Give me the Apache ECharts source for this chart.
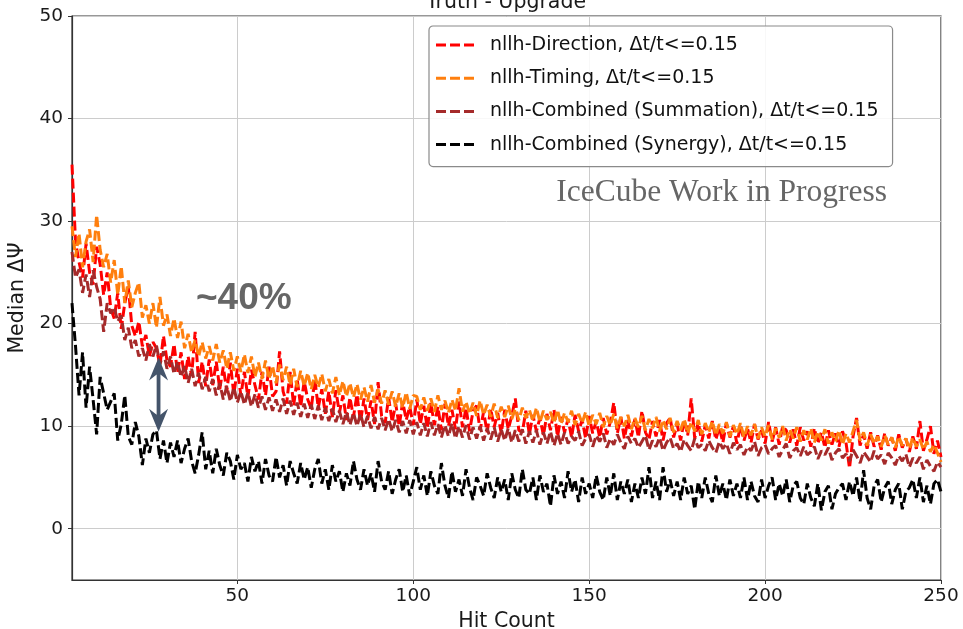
<!DOCTYPE html>
<html>
<head>
<meta charset="utf-8">
<script src="https://cdn.jsdelivr.net/npm/echarts@6/dist/echarts.min.js"></script>
<style>
  html, body { margin: 0; padding: 0; background: #fff; }
  #chart { width: 963px; height: 629px; }
</style>
</head>
<body>
<div id="chart"></div>
<script>
// Hit counts run from 3 to 250 in steps of one
const hitStart = 3;
const hitEnd = 250;
const hitCounts = [];
for (let h = hitStart; h <= hitEnd; h++) hitCounts.push(h);

const seriesNames = [
  'nllh-Direction, Δt/t<=0.15',
  'nllh-Timing, Δt/t<=0.15',
  'nllh-Combined (Summation), Δt/t<=0.15',
  'nllh-Combined (Synergy), Δt/t<=0.15'
];

// Median angular error per hit count
const direction = [
  35.5, 28.0, 26.0, 24.5, 27.8, 25.0, 23.8, 27.5, 25.8, 22.8,
  25.0, 21.5, 20.5, 23.0, 19.5, 22.0, 23.6, 19.8, 18.8, 20.2,
  17.8, 18.9, 16.8, 18.2, 17.6, 15.9, 18.8, 16.4, 15.8, 18.0,
  15.2, 17.2, 14.6, 16.8, 14.9, 19.2, 14.2, 16.3, 13.9, 16.5,
  14.0, 16.3, 13.6, 15.8, 13.4, 16.2, 13.1, 15.6, 13.0, 15.3,
  12.8, 15.5, 14.0, 12.6, 15.3, 13.0, 15.8, 12.9, 13.4, 17.3,
  13.4, 12.2, 15.3, 12.0, 14.6, 11.9, 14.4, 12.6, 11.7, 14.6,
  11.8, 13.6, 11.2, 13.4, 10.9, 13.5, 11.3, 13.0, 10.6, 12.8,
  10.9, 13.1, 10.4, 12.7, 10.6, 12.5, 10.2, 14.3, 11.0, 10.3,
  12.8, 10.4, 12.2, 10.0, 12.4, 10.6, 11.9, 10.1, 12.6, 10.2,
  12.0, 9.8, 12.3, 10.1, 11.9, 9.6, 12.2, 10.0, 11.6, 9.7,
  12.4, 9.9, 11.8, 9.5, 11.5, 12.0, 9.6, 11.4, 9.4, 11.7,
  9.9, 11.3, 9.3, 11.6, 9.7, 11.0, 12.7, 9.6, 9.4, 11.5,
  9.2, 11.1, 9.5, 10.8, 9.1, 11.2, 9.6, 11.6, 9.0, 10.9,
  9.4, 10.7, 8.9, 11.1, 9.5, 10.6, 8.8, 11.0, 9.3, 10.5,
  8.9, 10.8, 9.2, 10.4, 12.3, 9.3, 10.9, 8.8, 10.6, 9.0,
  10.7, 8.9, 11.5, 9.4, 8.7, 10.5, 9.0, 10.6, 8.6, 10.3,
  10.8, 8.9, 10.2, 8.6, 10.6, 9.1, 12.7, 8.8, 10.4, 8.5,
  10.1, 8.8, 10.5, 8.7, 9.9, 8.4, 10.3, 8.9, 10.0, 8.3,
  10.1, 8.6, 9.8, 8.4, 10.2, 8.7, 9.6, 8.3, 10.4, 8.5,
  9.9, 8.2, 10.0, 9.6, 8.4, 9.7, 8.1, 9.9, 8.6, 9.5,
  8.0, 9.8, 8.3, 9.4, 7.9, 9.6, 8.2, 9.3, 8.0, 9.5,
  8.4, 5.9, 9.0, 10.8, 8.1, 9.2, 7.8, 9.4, 8.0, 9.1,
  7.7, 9.3, 8.1, 8.9, 7.6, 9.2, 7.9, 8.8, 7.5, 9.0,
  7.8, 10.5, 7.6, 8.7, 10.0, 7.3, 8.6, 7.0
];

const timing = [
  29.5, 26.5, 28.8, 25.5, 28.0, 29.2, 26.0, 30.6, 27.2, 25.5,
  26.8, 24.0, 26.2, 22.8, 25.6, 22.0, 24.2, 21.6, 23.0, 24.0,
  20.6, 21.8, 20.0, 22.0, 19.6, 22.6, 19.8, 20.9, 18.8, 20.5,
  18.6, 20.2, 17.6, 19.0, 17.2, 18.4, 16.8, 18.2, 16.6, 17.8,
  16.4, 18.0, 16.2, 17.4, 15.6, 17.2, 15.4, 16.8, 15.3, 17.0,
  15.2, 16.8, 14.8, 16.2, 14.6, 16.4, 14.6, 15.9, 14.2, 16.0,
  14.5, 15.8, 14.0, 15.6, 13.8, 15.4, 13.9, 15.2, 13.6, 15.0,
  13.8, 15.1, 13.4, 14.6, 13.2, 14.8, 13.0, 14.4, 12.9, 14.2,
  12.8, 14.1, 12.6, 13.8, 12.4, 14.0, 12.3, 13.6, 12.2, 13.5,
  12.1, 13.4, 11.9, 13.2, 11.8, 13.3, 11.7, 13.0, 12.9, 11.6,
  12.8, 11.5, 12.7, 11.4, 13.0, 11.6, 12.5, 11.3, 12.6, 11.5,
  13.7, 11.4, 12.4, 11.2, 12.3, 11.0, 12.5, 11.1, 12.1, 10.9,
  12.2, 10.8, 11.9, 10.9, 12.0, 10.7, 11.7, 10.6, 11.8, 10.8,
  11.6, 10.5, 11.8, 10.4, 11.5, 10.6, 11.4, 10.3, 11.6, 10.2,
  11.3, 10.4, 11.5, 10.1, 11.2, 10.3, 11.4, 10.0, 11.1, 10.2,
  11.3, 9.9, 11.0, 10.1, 11.2, 9.8, 10.9, 10.0, 11.1, 9.7,
  10.8, 9.9, 11.0, 9.6, 10.7, 9.8, 10.9, 9.5, 10.6, 9.7,
  10.8, 9.4, 10.5, 9.6, 10.7, 9.3, 10.4, 9.5, 10.6, 9.2,
  10.3, 9.4, 10.5, 9.1, 10.2, 9.3, 10.4, 9.0, 10.1, 9.2,
  10.3, 8.9, 10.0, 9.1, 10.2, 8.8, 9.9, 9.0, 10.1, 8.7,
  9.8, 8.9, 10.0, 8.6, 9.7, 8.8, 9.9, 8.5, 9.6, 8.7,
  9.8, 8.4, 9.5, 8.6, 9.7, 8.3, 9.4, 8.5, 9.6, 8.2,
  9.3, 8.4, 9.5, 10.6, 8.6, 9.4, 8.1, 9.2, 8.3, 9.0,
  8.0, 9.1, 8.2, 8.9, 7.9, 9.0, 8.1, 8.8, 7.8, 8.9,
  8.0, 8.7, 7.7, 8.5, 7.5, 8.2, 7.4, 6.5
];

const summation = [
  27.0, 24.5, 25.3, 23.0, 24.8, 22.6, 25.2, 23.6, 22.4, 19.2,
  22.0, 21.0, 21.6, 20.2, 20.8, 18.4, 19.6, 17.6, 18.4, 16.8,
  17.6, 16.4, 18.0, 16.8, 17.9, 16.0, 17.3, 15.6, 16.8, 15.1,
  16.3, 14.8, 15.9, 14.2, 15.6, 13.9, 15.2, 13.6, 14.8, 13.4,
  14.6, 13.0, 14.2, 12.6, 13.9, 12.4, 13.8, 12.3, 13.4, 12.1,
  13.3, 11.9, 13.1, 11.8, 12.9, 11.6, 12.8, 11.5, 12.6, 11.4,
  12.7, 11.2, 12.5, 11.1, 12.3, 10.9, 12.2, 10.8, 12.1, 10.7,
  12.0, 10.6, 11.8, 10.5, 11.7, 10.4, 11.5, 10.2, 11.4, 10.1,
  11.3, 10.0, 11.2, 9.9, 11.0, 9.8, 10.9, 9.7, 10.8, 9.6,
  10.7, 9.5, 10.6, 9.4, 10.5, 9.3, 10.6, 9.2, 10.4, 9.1,
  10.3, 9.0, 10.4, 9.1, 10.2, 8.9, 10.1, 9.0, 10.3, 8.8,
  10.0, 8.9, 10.1, 8.7, 9.9, 8.8, 10.0, 8.6, 9.8, 8.7,
  9.9, 8.5, 9.7, 8.6, 9.8, 8.4, 9.6, 8.5, 9.7, 8.3,
  9.5, 8.4, 9.6, 8.2, 9.4, 8.3, 9.5, 8.1, 9.3, 8.2,
  9.4, 8.3, 9.0, 8.6, 9.5, 8.1, 8.8, 9.2, 8.0, 9.1,
  8.5, 9.3, 7.9, 8.8, 8.2, 9.2, 8.4, 7.8, 9.0, 8.3,
  8.8, 7.9, 8.5, 9.1, 7.7, 8.6, 8.0, 8.9, 7.6, 8.4,
  8.9, 7.8, 8.3, 7.5, 8.7, 8.1, 7.6, 8.8, 7.9, 8.2,
  7.6, 8.6, 7.9, 7.4, 8.5, 7.8, 8.3, 7.3, 8.4, 7.7,
  8.2, 7.2, 8.0, 7.6, 8.5, 7.1, 7.9, 8.2, 7.3, 7.8,
  8.1, 7.0, 7.7, 8.3, 6.9, 7.6, 7.9, 7.1, 8.0, 7.2,
  7.5, 8.0, 6.8, 7.6, 7.2, 7.9, 6.7, 7.4, 7.8, 6.9,
  7.3, 6.6, 7.7, 7.1, 6.4, 7.5, 7.0, 6.5, 7.6, 6.8,
  7.2, 6.3, 7.4, 6.9, 6.2, 7.1, 6.6, 7.3, 6.0, 6.9,
  6.4, 7.0, 5.8, 6.7, 6.1, 5.6, 6.5, 6.0
];

const synergy = [
  22.0, 17.8, 13.0, 17.2, 11.8, 15.8, 12.6, 9.2, 14.8, 13.2,
  11.6, 12.4, 13.2, 8.6, 10.2, 13.0, 9.0, 8.2, 10.4, 9.0,
  6.2, 8.8, 7.4, 9.2, 9.6, 6.8, 8.6, 6.4, 8.4, 7.0,
  8.6, 6.4, 7.8, 8.8, 6.6, 5.4, 7.2, 9.4, 5.8, 7.6,
  5.4, 7.8, 6.2, 5.2, 7.4, 6.6, 4.8, 7.2, 5.8, 6.4,
  4.6, 7.0, 5.6, 6.6, 4.4, 6.8, 5.2, 4.6, 7.0, 5.0,
  6.2, 4.2, 6.6, 5.4, 4.4, 6.4, 4.8, 6.0, 4.0, 5.8,
  6.8, 4.4, 5.8, 3.8, 6.2, 4.6, 5.6, 3.6, 5.4, 4.2,
  6.6, 4.8, 3.8, 5.8, 4.2, 5.4, 3.6, 6.6, 4.6, 3.8,
  5.6, 3.4, 4.8, 5.8, 3.6, 5.2, 3.2, 4.6, 6.0, 3.8,
  5.2, 3.2, 5.6, 4.2, 3.4, 6.4, 4.2, 3.0, 5.6, 3.6,
  4.8, 3.2, 5.8, 4.0, 2.8, 5.0, 4.2, 3.2, 5.4, 4.0,
  3.0, 5.0, 3.6, 4.8, 2.8, 5.4, 3.8, 3.0, 5.8, 3.8,
  3.4, 5.0, 2.8, 5.2, 3.6, 4.4, 2.2, 5.2, 3.4, 4.6,
  3.0, 5.6, 3.6, 4.8, 2.6, 5.0, 3.4, 4.4, 3.0, 5.2,
  3.6, 2.8, 5.0, 3.2, 5.4, 2.8, 4.6, 3.4, 4.8, 2.6,
  4.4, 3.0, 5.0, 3.4, 6.0, 3.0, 4.6, 2.8, 6.0, 3.6,
  4.8, 3.2, 4.6, 2.8, 5.0, 3.4, 4.2, 1.9, 4.6, 3.0,
  5.0, 3.4, 2.6, 5.2, 3.2, 4.4, 2.8, 4.8, 3.2, 4.4,
  3.0, 5.0, 2.8, 4.6, 3.2, 2.6, 4.8, 3.0, 4.2, 5.0,
  2.8, 4.4, 3.2, 4.8, 2.6, 4.2, 4.6, 3.0, 2.4, 4.4,
  3.0, 2.2, 4.4, 1.8, 3.6, 4.2, 1.9, 3.4, 4.0, 4.4,
  2.8, 4.6, 3.2, 5.0, 2.6, 5.7, 3.0, 1.9, 4.2, 4.8,
  2.6, 4.0, 4.6, 2.4, 3.8, 4.4, 1.9, 3.6, 4.0, 4.8,
  3.0, 5.0, 2.6, 4.2, 2.4, 4.4, 4.8, 3.6
];

const seriesValues = [direction, timing, summation, synergy];
const seriesColors = ['#ff0000', '#ff7f0e', '#a52a2a', '#000000'];

// Axis ranges
const xRange = [hitStart, hitEnd];
const yRange = [-5, 50];

const FONT = '"DejaVu Sans", "Liberation Sans", sans-serif';
const dashIcon = 'path://M0,0H10V3H0Z M14,0H24V3H14Z M28,0H38V3H28Z';

const chart = echarts.init(document.getElementById('chart'), null, { renderer: 'canvas' });

const series = seriesNames.map((name, i) => ({
  name: name,
  type: 'line',
  data: hitCounts.map((h, k) => [h, seriesValues[i][k]]),
  showSymbol: false,
  symbol: 'none',
  color: seriesColors[i],
  lineStyle: { width: 3, type: [10, 4], color: seriesColors[i], cap: 'butt' },
  emphasis: { disabled: true },
  z: 2 + i
}));

chart.setOption({
  animation: false,
  backgroundColor: '#ffffff',
  grid: {
    left: 72, right: 22, top: 16, bottom: 49,
    outerBoundsMode: 'none',
    containLabel: false,
    show: true, borderColor: '#333333', borderWidth: 1.2,
    backgroundColor: 'transparent'
  },
  xAxis: {
    type: 'value',
    min: xRange[0], max: xRange[1],
    splitNumber: 5,
    name: 'Hit Count',
    nameLocation: 'middle',
    nameGap: 28,
    nameTextStyle: { fontFamily: FONT, fontSize: 20.5, color: '#1a1a1a' },
    axisLine: { show: true, onZero: false, lineStyle: { color: '#333333', width: 1.2 } },
    axisTick: { show: true, inside: false, length: 4, lineStyle: { color: '#333333', width: 1 } },
    axisLabel: { fontFamily: FONT, fontSize: 18.5, color: '#1a1a1a', margin: 7, showMinLabel: false, showMaxLabel: true },
    splitLine: { show: true, lineStyle: { color: '#cccccc', width: 1 } }
  },
  yAxis: {
    type: 'value',
    min: yRange[0], max: yRange[1],
    splitNumber: 5,
    name: 'Median ΔΨ',
    nameLocation: 'middle',
    nameGap: 35,
    nameTextStyle: { fontFamily: FONT, fontSize: 20.5, color: '#1a1a1a' },
    axisLine: { show: true, onZero: false, lineStyle: { color: '#333333', width: 1.2 } },
    axisTick: { show: true, inside: false, length: 4, lineStyle: { color: '#333333', width: 1 } },
    axisLabel: { fontFamily: FONT, fontSize: 18.5, color: '#1a1a1a', margin: 9, showMinLabel: false },
    splitLine: { show: true, lineStyle: { color: '#cccccc', width: 1 } }
  },
  legend: {
    orient: 'vertical',
    left: 429, top: 26,
    padding: [8, 14, 11, 7],
    itemGap: 11.2,
    itemWidth: 40, itemHeight: 3,
    icon: dashIcon,
    backgroundColor: 'rgba(255,255,255,0.85)',
    borderColor: '#8a8a8a', borderWidth: 1.2, borderRadius: 4,
    selectedMode: false,
    textStyle: { fontFamily: FONT, fontSize: 19, color: '#111111', lineHeight: 22, padding: [0, 0, 0, 10] },
    data: seriesNames
  },
  series: series
});

// Annotations placed through the grid's own coordinate system
function px(x, y) { return chart.convertToPixel({ gridIndex: 0 }, [x, y]); }

const arrowTop = px(27.6, 16.7);
const arrowBottom = px(27.6, 9.45);
const cx = arrowTop[0];
const t = arrowTop[1];
const b = arrowBottom[1];
const headLen = 23, headHalf = 9.5, notch = 17, shaftHalf = 1.9;
const arrowPoints = [
  [cx, t], [cx + headHalf, t + headLen], [cx + shaftHalf, t + notch],
  [cx + shaftHalf, b - notch], [cx + headHalf, b - headLen], [cx, b],
  [cx - headHalf, b - headLen], [cx - shaftHalf, b - notch],
  [cx - shaftHalf, t + notch], [cx - headHalf, t + headLen]
];

chart.setOption({
  graphic: [
    {
      type: 'text', z: 20,
      style: {
        text: 'Truth - Upgrade', x: 506, y: 3,
        font: '20.5px ' + FONT, fill: '#1a1a1a',
        textAlign: 'center', textVerticalAlign: 'middle'
      }
    },
    {
      type: 'text', z: 20,
      style: {
        text: 'IceCube Work in Progress', x: 887, y: 193,
        font: '31.5px "Liberation Serif", "DejaVu Serif", serif', fill: '#666666',
        textAlign: 'right', textVerticalAlign: 'middle'
      }
    },
    {
      type: 'text', z: 20,
      style: {
        text: '~40%', x: 196, y: 299,
        font: 'bold 37px "Liberation Sans", Arial, sans-serif', fill: '#666666',
        textAlign: 'left', textVerticalAlign: 'middle'
      }
    },
    {
      type: 'polygon', z: 20,
      shape: { points: arrowPoints },
      style: { fill: '#44546a' }
    }
  ]
});
</script>
</body>
</html>
